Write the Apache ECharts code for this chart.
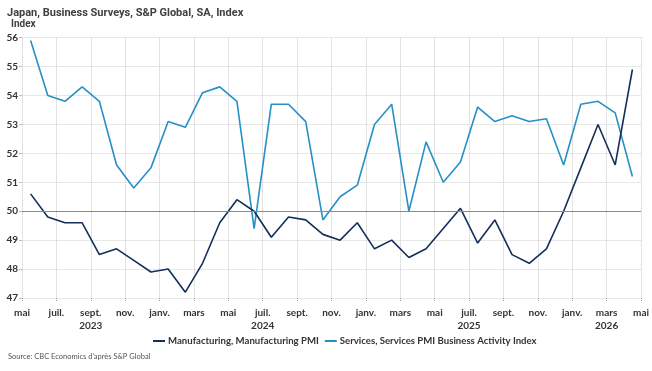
<!DOCTYPE html>
<html><head><meta charset="utf-8">
<script src="https://cdn.jsdelivr.net/npm/echarts@6/dist/echarts.min.js"></script>
<style>html,body{margin:0;padding:0;background:#fff}#c{width:652px;height:371px}</style>
</head><body><div id="c"></div>
<script>
// Monthly categories (May 2023 .. April 2026)
const months = ['2023-05','2023-06','2023-07','2023-08','2023-09','2023-10','2023-11','2023-12',
  '2024-01','2024-02','2024-03','2024-04','2024-05','2024-06','2024-07','2024-08','2024-09','2024-10','2024-11','2024-12',
  '2025-01','2025-02','2025-03','2025-04','2025-05','2025-06','2025-07','2025-08','2025-09','2025-10','2025-11','2025-12',
  '2026-01','2026-02','2026-03','2026-04'];
const manufacturing = [50.6,49.8,49.6,49.6,48.5,48.7,48.3,47.9,48.0,47.2,48.2,49.6,50.4,50.0,49.1,49.8,49.7,49.2,49.0,49.6,
  48.7,49.0,48.4,48.7,49.4,50.1,48.9,49.7,48.5,48.2,48.7,50.0,51.5,53.0,51.6,54.9];
const services = [55.9,54.0,53.8,54.3,53.8,51.6,50.8,51.5,53.1,52.9,54.1,54.3,53.8,49.4,53.7,53.7,53.1,49.7,50.5,50.9,
  53.0,53.7,50.0,52.4,51.0,51.7,53.6,53.1,53.3,53.1,53.2,51.6,53.7,53.8,53.4,51.2];
// Tick labels every two months (boundaries, May 2023 .. May 2026)
const tickLabels = ['mai','juil.','sept.\n2023','nov.','janv.','mars','mai','juil.\n2024','sept.','nov.',
  'janv.','mars','mai','juil.\n2025','sept.','nov.','janv.','mars\n2026','mai'];
const seriesNames = ['Manufacturing, Manufacturing PMI','Services, Services PMI Business Activity Index'];
const FONT = "Lato, 'Open Sans', sans-serif";
const TFONT = "Roboto, 'Open Sans', sans-serif";

const chart = echarts.init(document.getElementById('c'), null, {renderer:'canvas'});
chart.setOption({
  animation:false,
  textStyle:{fontFamily:FONT},
  title:[
    {text:'Japan, Business Surveys, S&P Global, SA, Index', left:7, top:8, padding:0,
     textStyle:{fontFamily:TFONT, fontSize:11, fontWeight:'bold', color:'#404040'}},
    {text:'Index', left:11, top:19, padding:0, textStyle:{fontFamily:TFONT, fontSize:10, fontWeight:'bold', color:'#404040'}},
    {text:"Source: CBC Economics d'après S&P Global", left:8, top:353, padding:0,
     textStyle:{fontFamily:FONT, fontSize:7.5, fontWeight:'normal', color:'#555'}}
  ],
  grid:{left:22, right:10, top:37.7, bottom:73, containLabel:false},
  legend:{
    data:seriesNames, bottom:20, left:148, icon:'rect', itemWidth:12, itemHeight:2, itemGap:6,
    textStyle:{fontFamily:FONT, fontSize:9.6, fontWeight:'bold', color:'#333', padding:[0,0,0,-2]}
  },
  xAxis:[
    {type:'category', data:months, boundaryGap:true, show:false},
    {type:'value', min:0, max:36, interval:2, position:'bottom',
     axisLine:{show:false},
     axisTick:{show:true, length:4, lineStyle:{color:'#999', type:'dotted'}},
     splitLine:{show:true, lineStyle:{color:'#c8c8c8', type:'dotted', width:1}},
     axisLabel:{fontFamily:FONT, fontSize:10, fontWeight:'bold', color:'#333', margin:8, lineHeight:13,
       formatter:function(v){return tickLabels[Math.round(v/2)] || '';}}
    }
  ],
  yAxis:{type:'value', min:47, max:56, interval:1,
    axisLine:{show:false},
    axisTick:{show:true, length:3, lineStyle:{color:'#bbb'}},
    splitLine:{show:true, lineStyle:{color:'#e8e8e8', width:1}},
    axisLabel:{fontFamily:FONT, fontSize:10, fontWeight:'bold', color:'#333', margin:4}
  },
  series:[
    {name:seriesNames[0], type:'line', xAxisIndex:0, data:manufacturing, showSymbol:false, symbol:'none',
     lineStyle:{color:'#132f5a', width:1.6}, itemStyle:{color:'#132f5a'}, z:3,
     markLine:{silent:true, symbol:'none', label:{show:false},
       lineStyle:{color:'#8a8a8a', type:'solid', width:1}, data:[{yAxis:50}]}},
    {name:seriesNames[1], type:'line', xAxisIndex:0, data:services, showSymbol:false, symbol:'none',
     lineStyle:{color:'#2690c6', width:1.6}, itemStyle:{color:'#2690c6'}, z:2}
  ]
});
</script></body></html>
